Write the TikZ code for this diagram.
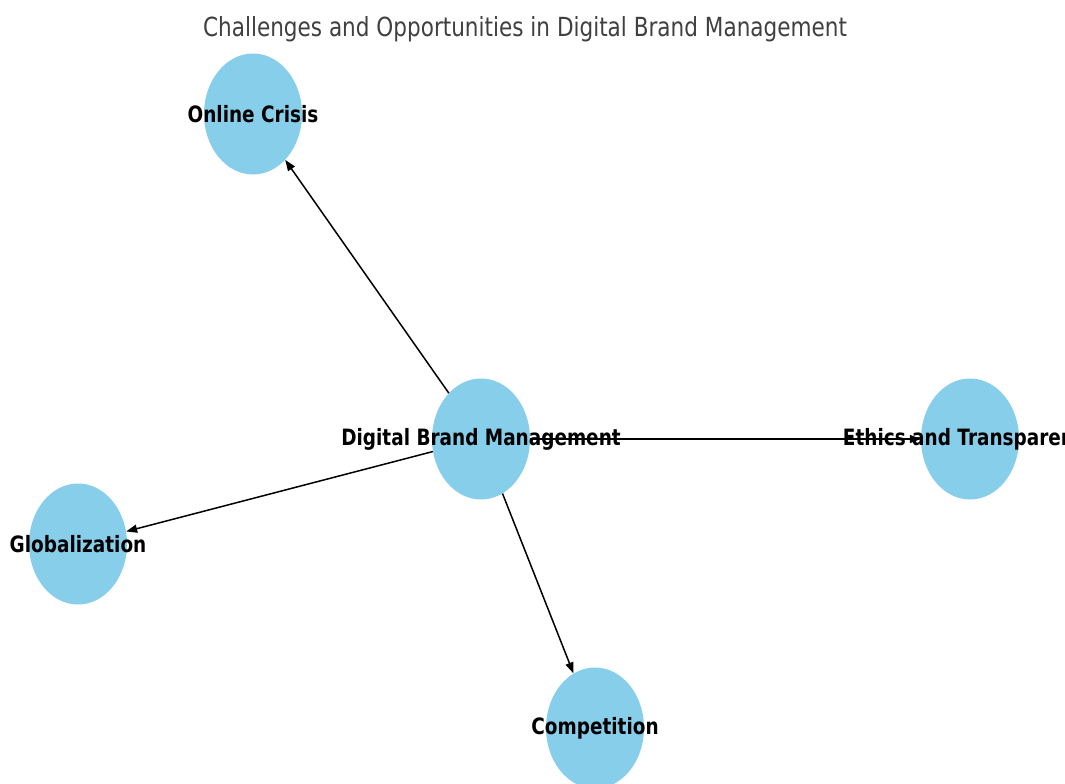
\documentclass[tikz,border=0pt]{standalone}
\usepackage{fontspec}
\usetikzlibrary{shapes.geometric,arrows.meta}
\newfontfamily\graphfont{DejaVu Sans}[FakeStretch=0.82]
\definecolor{skyblue}{HTML}{87CEEB}
\begin{document}
\begin{tikzpicture}[x=1pt,y=-1pt,
  blob/.style={ellipse,fill=skyblue,draw=none,minimum width=98pt,minimum height=121pt,inner sep=0pt},
  lbl/.style={font=\graphfont\bfseries\fontsize{22.5}{26}\selectfont,text=black,inner sep=0pt},
  link/.style={draw=black,line width=1.5pt,-{Triangle[length=11pt,width=8pt]}}]
\clip (0,0) rectangle (1065,784);
\fill[white] (0,0) rectangle (1065,784);
% title
\node[font=\graphfont\fontsize{26.3}{30}\selectfont,text=black!75,inner sep=0pt] (title) at (525,29) {Challenges and Opportunities in Digital Brand Management};
% nodes
\node[blob] (dbm) at (481,439) {};
\node[blob] (oc) at (253,114) {};
\node[blob] (et) at (970,439) {};
\node[blob] (gl) at (78,544) {};
\node[blob] (co) at (595,728) {};
% connectors
\draw[link] (dbm) -- (oc);
\draw[link] (dbm) -- (et);
\draw[link] (dbm) -- (gl);
\draw[link] (dbm) -- (co);
% labels
\node[lbl] (dbmt) at (dbm) {Digital Brand Management};
\node[lbl] (oct) at (oc) {Online Crisis};
\node[lbl] (ett) at (et) {Ethics and Transparency};
\node[lbl] (glt) at (gl) {Globalization};
\node[lbl] (cot) at (co) {Competition};
\end{tikzpicture}
\end{document}
